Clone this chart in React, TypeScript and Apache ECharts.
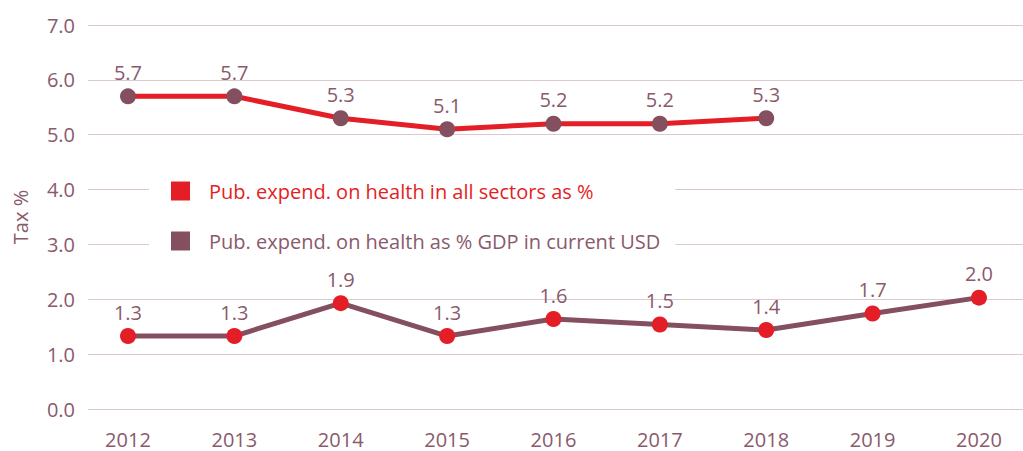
import React, { useEffect, useRef } from "react";
import * as echarts from "echarts";

const years = [2012, 2013, 2014, 2015, 2016, 2017, 2018, 2019, 2020];
const allSectors = [5.7, 5.7, 5.3, 5.1, 5.2, 5.2, 5.3];
const gdpShare = [1.33, 1.33, 1.93, 1.33, 1.64, 1.54, 1.44, 1.74, 2.03];
const seriesNames = [
  "Pub. expend. on health in all sectors as %",
  "Pub. expend. on health as % GDP in current USD",
];

const RED = "#e31e26";
const PURPLE = "#84505f";
const TEXT = "#8a5a6c";
const GRIDC = "#dcc9d0";
const FONT = "'Open Sans', 'Noto Sans', sans-serif";

export default function App() {
  const ref = useRef<HTMLDivElement>(null);
  useEffect(() => {
    if (!ref.current) return;
    document.body.style.margin = "0";
    document.documentElement.style.overflow = "hidden";
    document.body.style.overflow = "hidden";
    const chart = echarts.init(ref.current, undefined, { renderer: "svg" });
    const labelCfg = {
      show: true,
      position: "top" as const,
      distance: 6,
      color: TEXT,
      fontSize: 20,
      fontFamily: FONT,
      formatter: (p: any) => Number(p.value[1]).toFixed(1),
    };
    chart.setOption({
      animation: false,
      textStyle: { fontFamily: FONT },
      grid: { left: 88, right: 0, top: 25, bottom: 42 },
      legend: {
        orient: "vertical",
        left: 149,
        top: 168,
        backgroundColor: "#ffffff",
        padding: [12, 15, 12, 22],
        itemWidth: 19,
        itemHeight: 19,
        itemGap: 28,
        icon: "rect",
        textStyle: { fontSize: 20, lineHeight: 22, fontFamily: FONT, padding: [0, 0, 0, 14] },
        data: [
          { name: seriesNames[0], itemStyle: { color: RED }, textStyle: { color: RED } },
          { name: seriesNames[1], itemStyle: { color: PURPLE }, textStyle: { color: TEXT } },
        ],
      },
      xAxis: {
        type: "value",
        min: 2011.624,
        max: 2020.414,
        axisLine: { show: false },
        axisTick: { show: false },
        splitLine: { show: false },
        axisLabel: {
          customValues: years,
          color: TEXT,
          fontSize: 20,
          fontFamily: FONT,
          margin: 20,
          formatter: (v: number) => String(Math.round(v)),
        },
      },
      yAxis: {
        type: "value",
        min: 0,
        max: 7,
        interval: 1,
        name: "Tax %",
        nameLocation: "middle",
        nameGap: 58,
        nameTextStyle: { color: TEXT, fontSize: 20, fontFamily: FONT },
        axisLine: { show: false },
        axisTick: { show: false },
        axisLabel: {
          color: TEXT,
          fontSize: 20,
          fontFamily: FONT,
          margin: 13,
          formatter: (v: number) => v.toFixed(1),
        },
        splitLine: { lineStyle: { color: GRIDC, width: 1 } },
      },
      series: [
        {
          name: seriesNames[0],
          type: "line",
          data: allSectors.map((v, i) => [years[i], v]),
          symbol: "circle",
          symbolSize: 16,
          lineStyle: { color: RED, width: 5 },
          itemStyle: { color: PURPLE },
          label: labelCfg,
          z: 3,
        },
        {
          name: seriesNames[1],
          type: "line",
          data: gdpShare.map((v, i) => [years[i], v]),
          symbol: "circle",
          symbolSize: 16,
          lineStyle: { color: PURPLE, width: 5 },
          itemStyle: { color: RED },
          label: labelCfg,
          z: 3,
        },
      ],
    });
    return () => chart.dispose();
  }, []);
  return <div ref={ref} style={{ width: 1023, height: 451 }} />;
}
